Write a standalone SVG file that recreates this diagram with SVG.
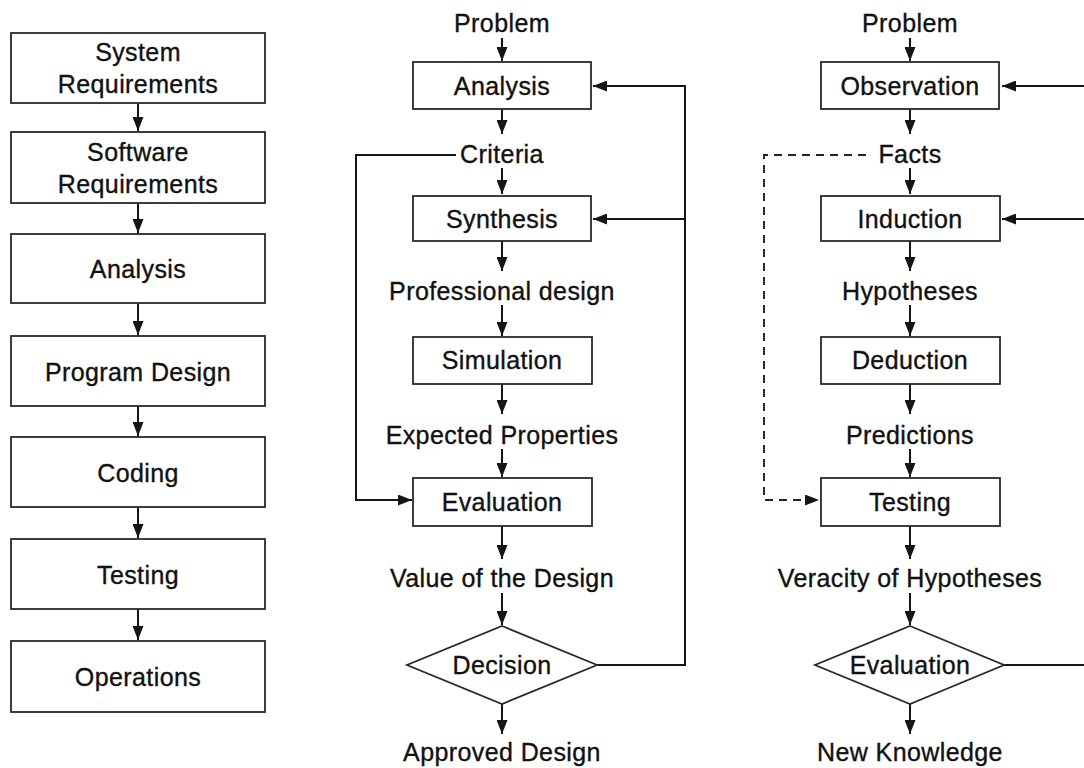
<svg xmlns="http://www.w3.org/2000/svg" width="1084" height="768" viewBox="0 0 1084 768">
<defs>
<marker id="ah" viewBox="0 0 14 11" refX="14" refY="5.5" markerWidth="14" markerHeight="11" markerUnits="userSpaceOnUse" orient="auto">
<path d="M0,0 L14,5.5 L0,11 z" fill="#151515"/>
</marker>
<style>
.box{fill:#fff;stroke:#2a2a2a;stroke-width:1.8}
.t{font-family:"Liberation Sans",Arial,Helvetica,sans-serif;font-size:25px;fill:#111;stroke:#111;stroke-width:0.35;text-anchor:middle;letter-spacing:0.4px}
.c{fill:none;stroke:#151515;stroke-width:2}
.d{fill:none;stroke:#222;stroke-width:1.9;stroke-dasharray:8 6}
</style>
</defs>
<rect width="1084" height="768" fill="#fff"/>

<g id="connectors">
<!-- left column -->
<line class="c" x1="138" y1="103" x2="138" y2="131" marker-end="url(#ah)"/>
<line class="c" x1="138" y1="203" x2="138" y2="233" marker-end="url(#ah)"/>
<line class="c" x1="138" y1="303" x2="138" y2="335" marker-end="url(#ah)"/>
<line class="c" x1="138" y1="406" x2="138" y2="436" marker-end="url(#ah)"/>
<line class="c" x1="138" y1="507" x2="138" y2="538" marker-end="url(#ah)"/>
<line class="c" x1="138" y1="609" x2="138" y2="640" marker-end="url(#ah)"/>
<!-- middle column -->
<line class="c" x1="502" y1="38" x2="502" y2="61" marker-end="url(#ah)"/>
<line class="c" x1="502" y1="109" x2="502" y2="134" marker-end="url(#ah)"/>
<line class="c" x1="502" y1="168" x2="502" y2="194" marker-end="url(#ah)"/>
<line class="c" x1="502" y1="241" x2="502" y2="271" marker-end="url(#ah)"/>
<line class="c" x1="502" y1="305" x2="502" y2="336" marker-end="url(#ah)"/>
<line class="c" x1="502" y1="384" x2="502" y2="414" marker-end="url(#ah)"/>
<line class="c" x1="502" y1="449" x2="502" y2="477" marker-end="url(#ah)"/>
<line class="c" x1="502" y1="526" x2="502" y2="559" marker-end="url(#ah)"/>
<line class="c" x1="502" y1="593" x2="502" y2="625" marker-end="url(#ah)"/>
<line class="c" x1="502" y1="704" x2="502" y2="734" marker-end="url(#ah)"/>
<path class="c" d="M597,665 H685 V86 H593" marker-end="url(#ah)"/>
<path class="c" d="M685,219 H593" marker-end="url(#ah)"/>
<path class="c" d="M456,155 H356 V500 H412" marker-end="url(#ah)"/>
<!-- right column -->
<line class="c" x1="910" y1="38" x2="910" y2="61" marker-end="url(#ah)"/>
<line class="c" x1="910" y1="109" x2="910" y2="134" marker-end="url(#ah)"/>
<line class="c" x1="910" y1="168" x2="910" y2="194" marker-end="url(#ah)"/>
<line class="c" x1="910" y1="241" x2="910" y2="271" marker-end="url(#ah)"/>
<line class="c" x1="910" y1="305" x2="910" y2="336" marker-end="url(#ah)"/>
<line class="c" x1="910" y1="384" x2="910" y2="414" marker-end="url(#ah)"/>
<line class="c" x1="910" y1="449" x2="910" y2="477" marker-end="url(#ah)"/>
<line class="c" x1="910" y1="526" x2="910" y2="559" marker-end="url(#ah)"/>
<line class="c" x1="910" y1="593" x2="910" y2="625" marker-end="url(#ah)"/>
<line class="c" x1="910" y1="704" x2="910" y2="734" marker-end="url(#ah)"/>
<path class="c" d="M1004,665 H1092 V86 H1002" marker-end="url(#ah)"/>
<path class="c" d="M1092,219 H1002" marker-end="url(#ah)"/>
<path class="d" d="M866,155 H764 V500 H819" marker-end="url(#ah)"/>
</g>

<!-- left column nodes -->
<g id="sysreq"><rect class="box" x="11" y="33" width="254" height="70"/><text class="t" x="138" y="61">System</text><text class="t" x="138" y="93">Requirements</text></g>
<g id="swreq"><rect class="box" x="11" y="132" width="254" height="71"/><text class="t" x="138" y="161">Software</text><text class="t" x="138" y="193">Requirements</text></g>
<g id="l-analysis"><rect class="box" x="11" y="234" width="254" height="69"/><text class="t" x="138" y="278">Analysis</text></g>
<g id="l-progdesign"><rect class="box" x="11" y="336" width="254" height="70"/><text class="t" x="138" y="381">Program Design</text></g>
<g id="l-coding"><rect class="box" x="11" y="437" width="254" height="70"/><text class="t" x="138" y="482">Coding</text></g>
<g id="l-testing"><rect class="box" x="11" y="539" width="254" height="70"/><text class="t" x="138" y="584">Testing</text></g>
<g id="l-operations"><rect class="box" x="11" y="641" width="254" height="71"/><text class="t" x="138" y="686">Operations</text></g>

<!-- middle column nodes -->
<g id="m-problem"><text class="t" x="502" y="32">Problem</text></g>
<g id="m-analysis"><rect class="box" x="413" y="62" width="178" height="47"/><text class="t" x="502" y="95">Analysis</text></g>
<g id="m-criteria"><text class="t" x="502" y="163">Criteria</text></g>
<g id="m-synthesis"><rect class="box" x="413" y="196" width="178" height="45"/><text class="t" x="502" y="228">Synthesis</text></g>
<g id="m-profdesign"><text class="t" x="502" y="300">Professional design</text></g>
<g id="m-simulation"><rect class="box" x="413" y="337" width="179" height="47"/><text class="t" x="502" y="369">Simulation</text></g>
<g id="m-expected"><text class="t" x="502" y="444">Expected Properties</text></g>
<g id="m-evaluation"><rect class="box" x="413" y="478" width="179" height="48"/><text class="t" x="502" y="511">Evaluation</text></g>
<g id="m-value"><text class="t" x="502" y="587">Value of the Design</text></g>
<g id="m-decision"><polygon class="box" points="502,626 597,665 502,704 407,665"/><text class="t" x="502" y="674">Decision</text></g>
<g id="m-approved"><text class="t" x="502" y="761">Approved Design</text></g>

<!-- right column nodes -->
<g id="r-problem"><text class="t" x="910" y="32">Problem</text></g>
<g id="r-observation"><rect class="box" x="821" y="62" width="178" height="47"/><text class="t" x="910" y="95">Observation</text></g>
<g id="r-facts"><text class="t" x="910" y="163">Facts</text></g>
<g id="r-induction"><rect class="box" x="821" y="196" width="179" height="45"/><text class="t" x="910" y="228">Induction</text></g>
<g id="r-hypotheses"><text class="t" x="910" y="300">Hypotheses</text></g>
<g id="r-deduction"><rect class="box" x="821" y="337" width="179" height="47"/><text class="t" x="910" y="369">Deduction</text></g>
<g id="r-predictions"><text class="t" x="910" y="444">Predictions</text></g>
<g id="r-testing"><rect class="box" x="821" y="478" width="179" height="48"/><text class="t" x="910" y="511">Testing</text></g>
<g id="r-veracity"><text class="t" x="910" y="587">Veracity of Hypotheses</text></g>
<g id="r-evaluation"><polygon class="box" points="910,626 1004,665 910,704 815,665"/><text class="t" x="910" y="674">Evaluation</text></g>
<g id="r-newknowledge"><text class="t" x="910" y="761">New Knowledge</text></g>
</svg>
